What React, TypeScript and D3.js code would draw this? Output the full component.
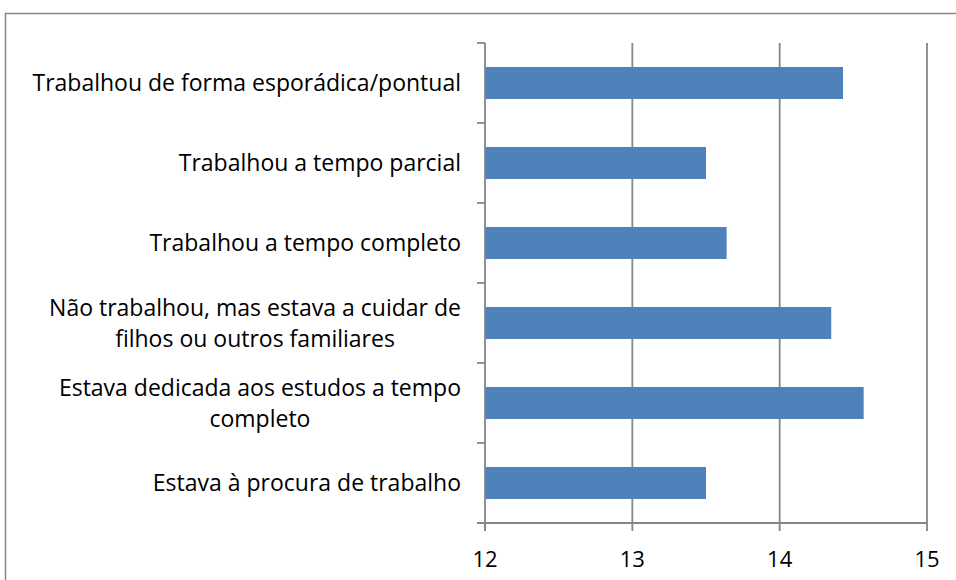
import React, { useEffect, useRef } from "react"
import * as d3 from "d3"

const categories: string[][] = [
  ["Trabalhou de forma esporádica/pontual"],
  ["Trabalhou a tempo parcial"],
  ["Trabalhou a tempo completo"],
  ["Não trabalhou, mas estava a cuidar de", "filhos ou outros familiares"],
  ["Estava dedicada aos estudos a tempo", "completo"],
  ["Estava à procura de trabalho"],
]
const values = [14.43, 13.5, 13.64, 14.35, 14.57, 13.5]
const xTicks = [12, 13, 14, 15]

const FONT = "'Open Sans', sans-serif"
const GREY = "#868686"

export default function App() {
  const svgRef = useRef<SVGSVGElement>(null)

  useEffect(() => {
    const svg = d3.select(svgRef.current)
    svg.selectAll("*").remove()

    const W = 956, H = 580
    const plot = { left: 485, right: 927, top: 43, bottom: 523 }

    // outer frame
    svg.append("rect")
      .attr("x", 5.5).attr("y", 13.5)
      .attr("width", W).attr("height", H)
      .attr("fill", "none").attr("stroke", GREY).attr("stroke-width", 1.5)

    const x = d3.scaleLinear().domain([12, 15]).range([plot.left, plot.right])
    const y = d3.scaleBand<number>()
      .domain(d3.range(categories.length))
      .range([plot.top, plot.bottom])
      .paddingInner(0.6).paddingOuter(0.3)
    const band = (plot.bottom - plot.top) / categories.length

    // vertical gridlines
    svg.append("g").selectAll("line")
      .data(xTicks.slice(1))
      .enter().append("line")
      .attr("x1", d => x(d)).attr("x2", d => x(d))
      .attr("y1", plot.top).attr("y2", plot.bottom + 8)
      .attr("stroke", GREY).attr("stroke-width", 1.8)

    // bars
    svg.append("g").selectAll("rect")
      .data(values)
      .enter().append("rect")
      .attr("x", x(12))
      .attr("y", (d, i) => y(i)!)
      .attr("width", d => x(d) - x(12))
      .attr("height", y.bandwidth())
      .attr("fill", "#4F81BD")

    // y axis line + ticks
    svg.append("line")
      .attr("x1", plot.left).attr("x2", plot.left)
      .attr("y1", plot.top).attr("y2", plot.bottom + 8)
      .attr("stroke", GREY).attr("stroke-width", 1.8)
    svg.append("g").selectAll("line")
      .data(d3.range(categories.length + 1))
      .enter().append("line")
      .attr("x1", plot.left - 8).attr("x2", plot.left)
      .attr("y1", i => plot.top + i * band).attr("y2", i => plot.top + i * band)
      .attr("stroke", GREY).attr("stroke-width", 1.8)

    // x axis line + ticks
    svg.append("line")
      .attr("x1", plot.left - 8).attr("x2", plot.right)
      .attr("y1", plot.bottom).attr("y2", plot.bottom)
      .attr("stroke", GREY).attr("stroke-width", 1.8)
    svg.append("line")
      .attr("x1", x(12)).attr("x2", x(12))
      .attr("y1", plot.bottom).attr("y2", plot.bottom + 8)
      .attr("stroke", GREY).attr("stroke-width", 1.8)

    svg.append("g").selectAll("text")
      .data(xTicks)
      .enter().append("text")
      .attr("x", d => x(d))
      .attr("y", 567)
      .attr("text-anchor", "middle")
      .attr("font-family", FONT).attr("font-size", 22)
      .attr("fill", "#000")
      .text(d => d)

    // category labels, wrapped lines centred on the widest line
    const lineH = 31
    const labelRight = 461
    categories.forEach((lines, i) => {
      const cy = y(i)! + y.bandwidth() / 2
      const g = svg.append("g")
      const texts = lines.map((ln, j) =>
        g.append("text")
          .attr("y", cy + (j - (lines.length - 1) / 2) * lineH)
          .attr("dy", "0.35em")
          .attr("text-anchor", "middle")
          .attr("font-family", FONT).attr("font-size", 23)
          .attr("fill", "#000")
          .text(ln)
      )
      const widest = d3.max(texts, t => (t.node() as SVGTextElement).getComputedTextLength()) || 0
      texts.forEach(t => t.attr("x", labelRight - widest / 2))
    })
  }, [])

  return (
    <svg ref={svgRef} width={956} height={580}
      style={{ position: "absolute", left: 0, top: 0, background: "#fff" }} />
  )
}
